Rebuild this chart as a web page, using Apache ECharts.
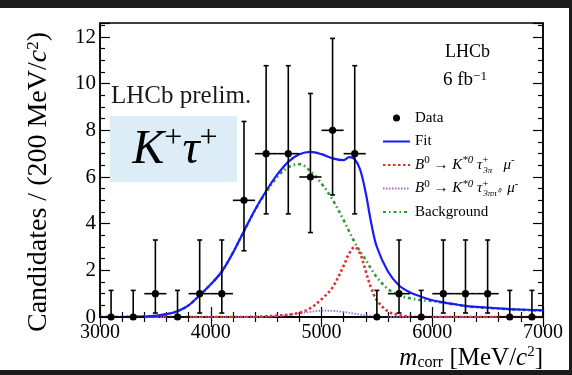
<!DOCTYPE html>
<html>
<head>
<meta charset="utf-8">
<script src="https://cdn.jsdelivr.net/npm/echarts@6/dist/echarts.min.js"></script>
<style>
html,body{margin:0;padding:0;background:#fff;}
#chart{width:572px;height:375px;}
</style>
</head>
<body>
<div id="chart"></div>
<script>
// ---- data ----
const binCenters = [3100,3300,3500,3700,3900,4100,4300,4500,4700,4900,5100,5300,5500,5700,5900,6100,6300,6500,6700,6900];
const counts     = [0,0,1,0,1,1,5,7,7,6,8,7,0,1,0,1,1,1,0,0];
const errLow     = [0,0,0.83,0,0.83,0.83,2.16,2.58,2.58,2.38,2.77,2.58,0,0.83,0,0.83,0.83,0.83,0,0];
const errHigh    = [1.14,1.14,2.3,1.14,2.3,2.3,3.38,3.77,3.77,3.58,3.94,3.77,1.14,2.3,1.14,2.3,2.3,2.3,1.14,1.14];
const binHalfWidth = 100;

const curveMass  = [3000,3100,3200,3300,3400,3500,3600,3700,3800,3900,4000,4100,4200,4300,4400,4500,4600,4700,4800,4900,5000,5100,5200,5250,5300,5350,5400,5450,5500,5600,5700,5800,5900,6000,6100,6200,6300,6400,6500,6600,6700,6800,6900,7000];
const fitValues  = [0,0,0,0.01,0.02,0.05,0.12,0.25,0.5,0.93,1.4,1.95,2.75,3.68,4.6,5.4,6.1,6.65,6.97,7.08,6.98,6.8,6.72,6.85,6.76,6.3,5.3,4.0,3.0,1.95,1.35,1.05,0.87,0.72,0.63,0.55,0.48,0.43,0.4,0.37,0.34,0.32,0.3,0.28];
const sig3pi     = [0,0,0,0,0,0,0,0,0,0,0,0,0,0,0.01,0.03,0.06,0.1,0.18,0.38,0.76,1.27,2.2,2.72,3.0,2.7,1.95,1.22,0.72,0.24,0.08,0.02,0,0,0,0,0,0,0,0,0,0,0,0];
const sig3pipi0  = [0,0,0,0,0,0,0,0,0,0,0,0,0,0,0,0.01,0.04,0.09,0.16,0.22,0.27,0.26,0.22,0.18,0.14,0.1,0.06,0.04,0.02,0,0,0,0,0,0,0,0,0,0,0,0,0,0,0];
const bkgValues  = [0,0,0,0.01,0.02,0.05,0.12,0.25,0.5,0.93,1.4,1.95,2.75,3.68,4.58,5.35,6.0,6.42,6.55,6.25,5.72,5.03,4.15,3.67,3.2,2.8,2.45,2.05,1.7,1.2,0.93,0.8,0.72,0.68,0.61,0.54,0.47,0.42,0.39,0.36,0.33,0.31,0.29,0.27];

const xTicks = [3000, 7000, 1000];   // min, max, interval
const yTicks = [0, 12.6, 2];

const nameData = 'Data';
const nameFit = 'Fit';
const nameSig1 = 'B0 → K*0 τ+3π μ-';
const nameSig2 = 'B0 → K*0 τ+3ππ0 μ-';
const nameBkg = 'Background';

// ---- build ----
const FONT = 'Liberation Serif';
const pts = binCenters.map((x, i) => [x, counts[i], errLow[i], errHigh[i], binHalfWidth]);
const pair = ys => curveMass.map((x, i) => [x, ys[i]]);

const chart = echarts.init(document.getElementById('chart'), null, {renderer: 'canvas'});

function axisCommon(showLabel) {
  return {
    axisLine: {show: true, lineStyle: {color: '#000', width: 1.5}},
    axisTick: {show: true, inside: true, length: 10, lineStyle: {color: '#000', width: 1.2}},
    minorTick: {show: true, length: 5, lineStyle: {color: '#000', width: 1.2}},
    splitLine: {show: false},
    axisLabel: {show: showLabel, color: '#000', fontFamily: FONT, fontSize: 20}
  };
}

const legendRich = {
  n: {fontFamily: FONT, fontSize: 15, color: '#000', lineHeight: 20},
  i: {fontFamily: FONT, fontSize: 15, fontStyle: 'italic', color: '#000', lineHeight: 20},
  s: {fontFamily: FONT, fontSize: 11, color: '#000', lineHeight: 10, verticalAlign: 'top'},
  si: {fontFamily: FONT, fontSize: 11, fontStyle: 'italic', color: '#000', lineHeight: 10, verticalAlign: 'top'},
  st: {fontFamily: FONT, fontSize: 11, color: '#000', lineHeight: 10, verticalAlign: 'top', width: 1},
  d: {fontFamily: FONT, fontSize: 9, fontStyle: 'italic', color: '#000', lineHeight: 8, verticalAlign: 'bottom'}
};

const transparent = 'rgba(0,0,0,0)';

const option = {
  animation: false,
  backgroundColor: '#fff',
  grid: {left: 100, right: 29, top: 23, bottom: 58, show: true, borderColor: '#000', borderWidth: 1.5, backgroundColor: 'transparent'},
  xAxis: [
    Object.assign({
      type: 'value', min: xTicks[0], max: xTicks[1], interval: xTicks[2], position: 'bottom',
      name: '{i|m}{sub|corr}{n| [MeV/}{i|c}{sup|2}{n|]}',
      nameLocation: 'end', nameGap: 0,
      nameTextStyle: {
        align: 'right', verticalAlign: 'top', padding: [28, 0, 0, 0],
        rich: {
          n: {fontFamily: FONT, fontSize: 25, color: '#000', lineHeight: 26},
          i: {fontFamily: FONT, fontSize: 25, fontStyle: 'italic', color: '#000', lineHeight: 26},
          sub: {fontFamily: FONT, fontSize: 16, color: '#000', lineHeight: 12, verticalAlign: 'bottom'},
          sup: {fontFamily: FONT, fontSize: 15, color: '#000', lineHeight: 12, verticalAlign: 'top'}
        }
      }
    }, axisCommon(true), {
      minorTick: {show: true, splitNumber: 5, length: 5, lineStyle: {color: '#000', width: 1.2}},
      axisLabel: {show: true, color: '#000', fontFamily: FONT, fontSize: 20, margin: 6,
        formatter: v => String(v)}
    }),
    Object.assign({
      type: 'value', min: xTicks[0], max: xTicks[1], interval: xTicks[2], position: 'top'
    }, axisCommon(false), {
      minorTick: {show: true, splitNumber: 5, length: 5, lineStyle: {color: '#000', width: 1.2}}
    })
  ],
  yAxis: [
    Object.assign({
      type: 'value', min: yTicks[0], max: yTicks[1], interval: yTicks[2], position: 'left',
      name: '{n|Candidates / (200 MeV/}{i|c}{s|2}{n|)}',
      nameLocation: 'middle', nameGap: 47, nameRotate: 90,
      nameTextStyle: {
        padding: [0, 24, 0, 0],
        rich: {
          n: {fontFamily: FONT, fontSize: 28, color: '#000', lineHeight: 28},
          i: {fontFamily: FONT, fontSize: 28, fontStyle: 'italic', color: '#000', lineHeight: 28},
          s: {fontFamily: FONT, fontSize: 17, color: '#000', lineHeight: 12, verticalAlign: 'top'}
        }
      }
    }, axisCommon(true), {
      minorTick: {show: true, splitNumber: 4, length: 5, lineStyle: {color: '#000', width: 1.2}},
      axisLabel: {show: true, color: '#000', fontFamily: FONT, fontSize: 21, margin: 4,
        formatter: v => (Math.abs(v % 2) < 1e-9 ? String(v) : '')}
    }),
    Object.assign({
      type: 'value', min: yTicks[0], max: yTicks[1], interval: yTicks[2], position: 'right'
    }, axisCommon(false), {
      minorTick: {show: true, splitNumber: 4, length: 5, lineStyle: {color: '#000', width: 1.2}}
    })
  ],
  legend: {
    orient: 'vertical', left: 377, top: 103,
    itemWidth: 27, itemHeight: 7, itemGap: 3.5,
    data: [
      {name: nameData, icon: 'circle'},
      {name: nameFit, itemStyle: {color: transparent, borderWidth: 0}},
      {name: nameSig1, itemStyle: {color: transparent, borderWidth: 0}},
      {name: nameSig2, itemStyle: {color: transparent, borderWidth: 0}},
      {name: nameBkg, itemStyle: {color: transparent, borderWidth: 0}}
    ],
    textStyle: {fontFamily: FONT, fontSize: 15, color: '#000', lineHeight: 20, rich: legendRich},
    formatter: function (name) {
      if (name === nameSig1) return '{i|B}{s|0}{n| → }{i|K}{si|*0}{n| }{i|τ}{st|+}{d|3π}{n|   }{i|μ}{s|-}';
      if (name === nameSig2) return '{i|B}{s|0}{n| → }{i|K}{si|*0}{n| }{i|τ}{st|+}{d|3ππ⁰}{n|  }{i|μ}{s|-}';
      return '{n|' + name + '}';
    }
  },
  series: [
    {name: nameBkg, type: 'line', data: pair(bkgValues), smooth: 0.35, symbol: 'none', z: 3,
      lineStyle: {color: '#2f9a2f', width: 2.6, type: [3, 3, 1.5, 3]}, itemStyle: {color: transparent}},
    {name: nameSig2, type: 'line', data: pair(sig3pipi0), smooth: 0.35, symbol: 'none', z: 3,
      lineStyle: {color: '#9a6cd8', width: 1.8, type: [1.5, 1.5]}, itemStyle: {color: transparent}},
    {name: nameSig1, type: 'line', data: pair(sig3pi), smooth: 0.35, symbol: 'none', z: 3,
      lineStyle: {color: '#e2302a', width: 2.6, type: [2.5, 2.5]}, itemStyle: {color: transparent}},
    {name: nameFit, type: 'line', data: pair(fitValues), smooth: 0.35, symbol: 'none', z: 4,
      lineStyle: {color: '#1a1aff', width: 2.2}, itemStyle: {color: transparent}},
    {name: nameData, type: 'custom', data: pts, z: 5,
      itemStyle: {color: '#000'},
      encode: {x: 0, y: 1},
      renderItem: function (params, api) {
        const x = api.value(0), y = api.value(1), lo = api.value(2), hi = api.value(3), hw = api.value(4);
        const c = api.coord([x, y]);
        const t = api.coord([x, y + hi]);
        const b = api.coord([x, y - lo]);
        const l = api.coord([x - hw, y]);
        const r = api.coord([x + hw, y]);
        const st = {stroke: '#000', lineWidth: 1.6};
        return {
          type: 'group',
          children: [
            {type: 'line', shape: {x1: c[0], y1: t[1], x2: c[0], y2: b[1]}, style: st},
            {type: 'line', shape: {x1: c[0] - 2.5, y1: t[1], x2: c[0] + 2.5, y2: t[1]}, style: st},
            {type: 'line', shape: {x1: c[0] - 2.5, y1: b[1], x2: c[0] + 2.5, y2: b[1]}, style: st},
            {type: 'line', shape: {x1: l[0], y1: c[1], x2: r[0], y2: c[1]}, style: st},
            {type: 'circle', shape: {cx: c[0], cy: c[1], r: 3.6}, style: {fill: '#000'}}
          ]
        };
      }
    }
  ],
  graphic: [
    {type: 'rect', z: 10, shape: {x: 110, y: 116, width: 127, height: 66}, style: {fill: '#dcedf8'}},
    {type: 'text', z: 11, style: {
      x: 175, y: 150, align: 'center', verticalAlign: 'middle',
      text: '{k|K}{p|+}{k|τ}{p|+}',
      rich: {
        k: {fontFamily: FONT, fontSize: 48, fontStyle: 'italic', fill: '#000', lineHeight: 54},
        p: {fontFamily: FONT, fontSize: 32, fill: '#000', lineHeight: 8, verticalAlign: 'top'}
      }
    }},
    {type: 'text', z: 11, style: {x: 111, y: 96, verticalAlign: 'middle', text: 'LHCb prelim.', fontFamily: FONT, fontSize: 25, fill: '#1b1a18'}},
    {type: 'text', z: 11, style: {x: 445, y: 52, verticalAlign: 'middle', text: 'LHCb', fontFamily: FONT, fontSize: 18, fill: '#000'}},
    {type: 'text', z: 11, style: {
      x: 443, y: 80, verticalAlign: 'middle',
      text: '{n|6 fb}{s|−1}',
      rich: {
        n: {fontFamily: FONT, fontSize: 19, fill: '#000', lineHeight: 20},
        s: {fontFamily: FONT, fontSize: 13, fill: '#000', lineHeight: 8, verticalAlign: 'top'}
      }
    }},
    {type: 'rect', z: 20, shape: {x: 0, y: 0, width: 572, height: 8}, style: {fill: '#1c1c1c'}},
    {type: 'rect', z: 20, shape: {x: 569, y: 0, width: 3, height: 375}, style: {fill: '#1c1c1c'}},
    {type: 'rect', z: 20, shape: {x: 0, y: 370, width: 572, height: 5}, style: {fill: '#1c1c1c'}}
  ]
};

chart.setOption(option);
</script>
</body>
</html>
